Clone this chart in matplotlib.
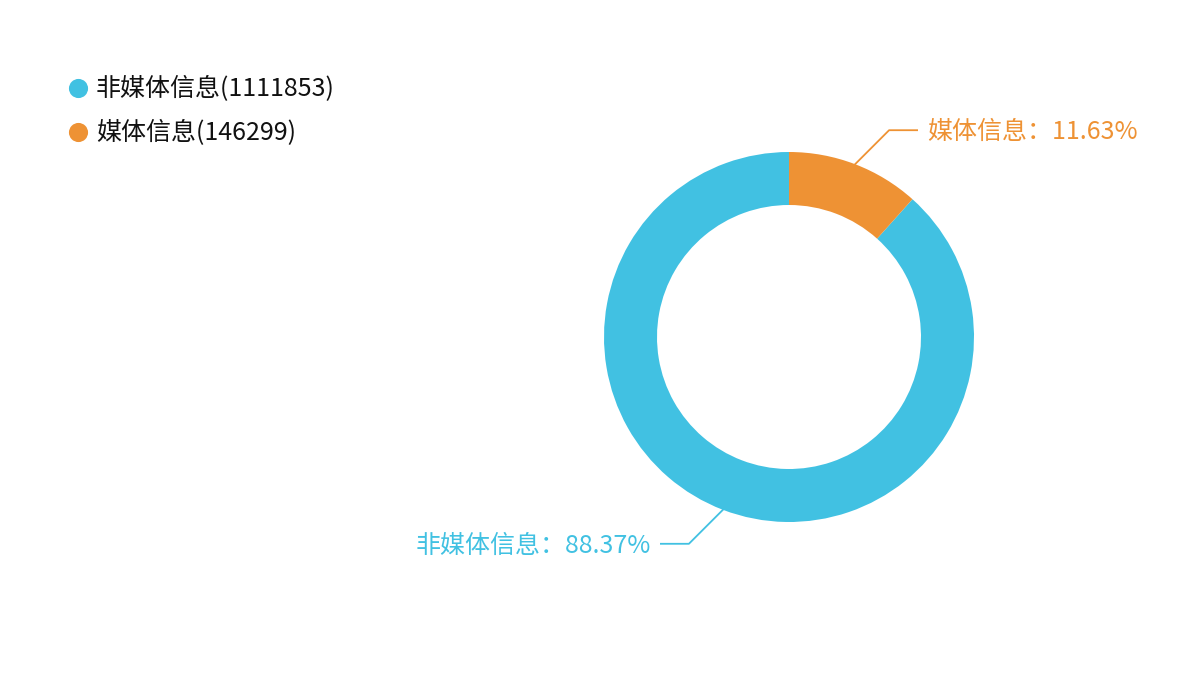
import matplotlib
matplotlib.use('Agg')
import matplotlib.pyplot as plt
import numpy as np

plt.rcParams['font.family'] = ['Noto Sans CJK SC', 'DejaVu Sans']

labels = ['非媒体信息', '媒体信息']
counts = [1111853, 146299]
colors = ['#41c1e2', '#ee9234']

W, H = 1200, 674
fig = plt.figure(figsize=(12, 6.74), dpi=100)
ax = fig.add_axes([0, 0, 1, 1])

cx, cy, r = 789, H - 337, 185
wedges, _ = ax.pie(counts, colors=colors, startangle=90,
                   center=(cx, cy), radius=r,
                   wedgeprops=dict(width=53, linewidth=0))
ax.set_xlim(0, W)
ax.set_ylim(0, H)
ax.set_aspect('equal')
ax.axis('off')

total = sum(counts)
for w, lab, n, c in zip(wedges, labels, counts, colors):
    ang = np.deg2rad((w.theta1 + w.theta2) / 2)
    x0, y0 = cx + r * np.cos(ang), cy + r * np.sin(ang)
    side = 1 if np.cos(ang) >= 0 else -1
    x1, y1 = x0 + side * 34, y0 + np.sign(np.sin(ang)) * 34
    x2 = x1 + side * 28
    ax.plot([x0, x1, x2], [y0, y1, y1], color=c, lw=1.3)
    pct = n / total * 100
    ax.text(x2 + side * 10, y1 - 2, f'{lab}：{pct:.2f}%', color=c, fontsize=18,
            ha='left' if side > 0 else 'right', va='center')

# legend
for i, (lab, n, c) in enumerate(zip(labels, counts, colors)):
    ly = H - 88 - i * 44
    ax.scatter([78], [ly], s=190, color=c, linewidths=0)
    ax.text(96, ly - 1, f'{lab}({n})', color='#111111', fontsize=18, va='center')

fig.savefig('out.png', dpi=100)
